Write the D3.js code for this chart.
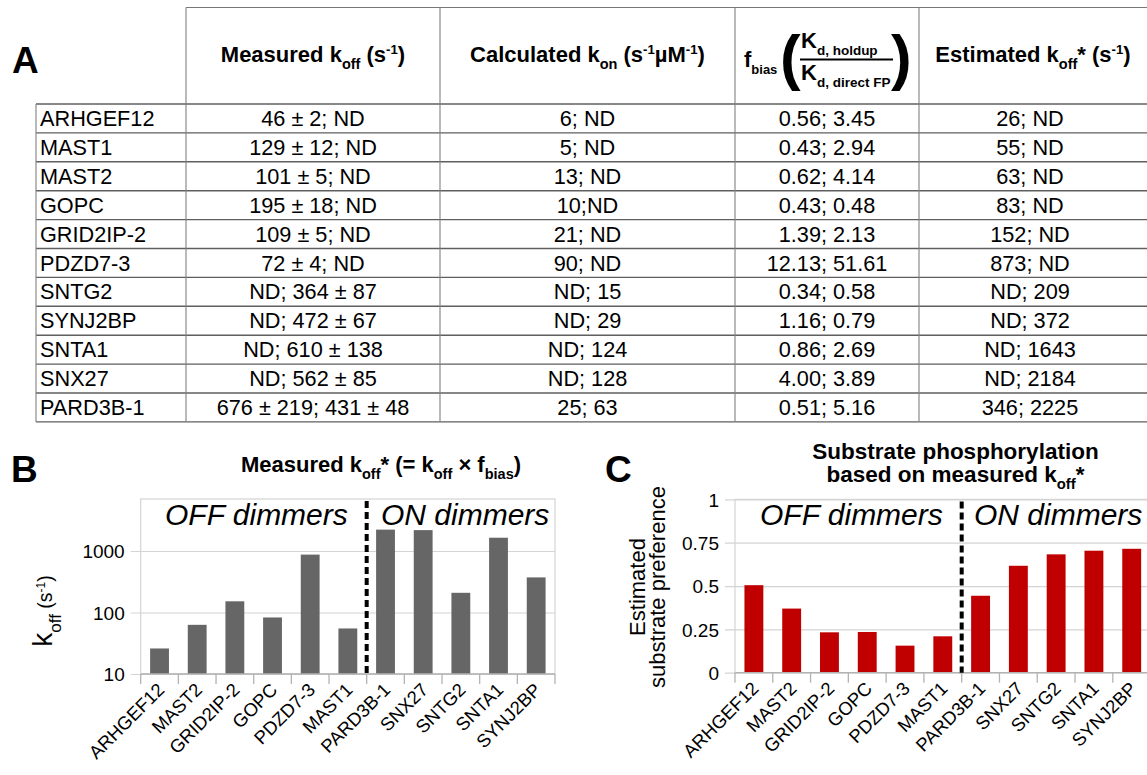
<!DOCTYPE html>
<html>
<head>
<meta charset="utf-8">
<script src="https://cdn.jsdelivr.net/npm/d3@7"></script>
<style>
  body { margin: 0; background: #fff; }
  svg { display: block; font-family: "Liberation Sans", Arial, sans-serif; white-space: pre; }
</style>
</head>
<body>
<svg id="fig" width="1147" height="775"></svg>
<script>
// ---- table A data
const proteins = ["ARHGEF12", "MAST1", "MAST2", "GOPC", "GRID2IP-2", "PDZD7-3", "SNTG2", "SYNJ2BP", "SNTA1", "SNX27", "PARD3B-1"];
const measuredKoff = ["46 ± 2; ND", "129 ± 12; ND", "101 ± 5; ND", "195 ± 18; ND", "109 ± 5; ND", "72 ± 4; ND",
                      "ND; 364 ± 87", "ND; 472 ± 67", "ND; 610 ± 138", "ND; 562 ± 85", "676 ± 219; 431 ± 48"];
const calculatedKon = ["6; ND", "5; ND", "13; ND", "10;ND", "21; ND", "90; ND", "ND; 15", "ND; 29", "ND; 124", "ND; 128", "25; 63"];
const fBias = ["0.56; 3.45", "0.43; 2.94", "0.62; 4.14", "0.43; 0.48", "1.39; 2.13", "12.13; 51.61",
               "0.34; 0.58", "1.16; 0.79", "0.86; 2.69", "4.00; 3.89", "0.51; 5.16"];
const estimatedKoff = ["26; ND", "55; ND", "63; ND", "83; ND", "152; ND", "873; ND", "ND; 209", "ND; 372", "ND; 1643", "ND; 2184", "346; 2225"];

// ---- panels B and C data
const dimmers = ["ARHGEF12", "MAST2", "GRID2IP-2", "GOPC", "PDZD7-3", "MAST1", "PARD3B-1", "SNX27", "SNTG2", "SNTA1", "SYNJ2BP"];
const koffStar = [26, 63, 152, 83, 873, 55, 2225, 2184, 209, 1643, 372];
const preference = [0.505, 0.37, 0.233, 0.235, 0.156, 0.21, 0.444, 0.617, 0.683, 0.704, 0.715];
const koffTicks = [10, 100, 1000];
const prefTicks = [0, 0.25, 0.5, 0.75, 1];
const prefLabels = ["0", "0.25", "0.5", "0.75", "1"];

const svg = d3.select("#fig");

// text with sub / superscript parts: [[string, "sub"|"sup"|undefined, size], ...]
function rich(g, x, y, fs, parts, opts = {}) {
  const t = g.append("text")
    .attr("x", x).attr("y", y)
    .attr("text-anchor", opts.anchor || "middle")
    .attr("font-size", fs)
    .attr("font-weight", opts.weight || "bold")
    .attr("fill", "#000");
  let shift = 0;
  parts.forEach(([str, kind, size]) => {
    let s = 0, sz = size || fs;
    if (kind === "sub") { s = fs * 0.3; sz = size || fs * 0.66; }
    if (kind === "sup") { s = -fs * 0.38; sz = size || fs * 0.6; }
    t.append("tspan").attr("dy", s - shift).attr("font-size", sz).text(str);
    shift = s;
  });
  return t;
}

// ================= A: table =================
const colX = [36, 186, 440, 735, 919, 1147];
const headTop = 7.5;
const yRow = d3.scaleBand().domain(proteins).range([104, 104 + proteins.length * 28.9]);
const tableBottom = yRow.range()[1];

const tbl = svg.append("g");
const rowEdges = [yRow.range()[0]].concat(proteins.map(d => yRow(d) + yRow.bandwidth()));

tbl.append("g").selectAll("line").data(rowEdges).join("line")
  .attr("x1", colX[0]).attr("x2", colX[5])
  .attr("y1", d => d).attr("y2", d => d)
  .attr("stroke", "#5f5f5f").attr("stroke-width", 1.4);
tbl.append("line")
  .attr("x1", colX[1]).attr("x2", colX[5]).attr("y1", headTop).attr("y2", headTop)
  .attr("stroke", "#777").attr("stroke-width", 1.2);
tbl.append("g").selectAll("line").data(colX.slice(0, 5)).join("line")
  .attr("x1", d => d).attr("x2", d => d)
  .attr("y1", (d, i) => i === 0 ? yRow.range()[0] : headTop)
  .attr("y2", tableBottom)
  .attr("stroke", "#808080").attr("stroke-width", 1.1);

// cell values
const columns = [
  { vals: proteins, x: 40, anchor: "start" },
  { vals: measuredKoff, x: (colX[1] + colX[2]) / 2 },
  { vals: calculatedKon, x: (colX[2] + colX[3]) / 2 },
  { vals: fBias, x: (colX[3] + colX[4]) / 2 },
  { vals: estimatedKoff, x: 1030 }
];
columns.forEach(c => {
  tbl.append("g").selectAll("text").data(c.vals).join("text")
    .attr("x", c.x)
    .attr("y", (d, i) => yRow(proteins[i]) + yRow.bandwidth() / 2 + 7.6)
    .attr("text-anchor", c.anchor || "middle")
    .attr("font-size", 21.7)
    .attr("fill", "#000")
    .text(d => d);
});

// headers
const hy = 62;
rich(tbl, (colX[1] + colX[2]) / 2, hy, 22, [["Measured k"], ["off", "sub"], [" (s"], ["-1", "sup"], [")"]]);
rich(tbl, (colX[2] + colX[3]) / 2, hy, 22, [["Calculated k"], ["on", "sub"], [" (s"], ["-1", "sup"], ["µM"], ["-1", "sup"], [")"]]);
rich(tbl, 1033, hy, 22, [["Estimated k"], ["off", "sub"], ["* (s"], ["-1", "sup"], [")"]]);

// f_bias header with fraction
rich(tbl, 744, 67, 22, [["f"], ["bias", "sub", 13]], { anchor: "start" });
tbl.append("text").attr("x", 780).attr("y", 78).attr("font-size", 62).attr("font-weight", "bold").text("(");
tbl.append("text").attr("x", 891).attr("y", 78).attr("font-size", 62).attr("font-weight", "bold").text(")");
rich(tbl, 801, 48, 22, [["K"], ["d,  holdup", "sub", 13.5]], { anchor: "start" });
rich(tbl, 801, 80, 22, [["K"], ["d, direct FP", "sub", 13.5]], { anchor: "start" });
tbl.append("line").attr("x1", 800).attr("x2", 893).attr("y1", 59.5).attr("y2", 59.5)
  .attr("stroke", "#000").attr("stroke-width", 2);

// panel letters
svg.append("text").attr("x", 12).attr("y", 73).attr("font-size", 37).attr("font-weight", "bold").text("A");
svg.append("text").attr("x", 11).attr("y", 482).attr("font-size", 37).attr("font-weight", "bold").text("B");
svg.append("text").attr("x", 605).attr("y", 482).attr("font-size", 37).attr("font-weight", "bold").text("C");

// ================= shared bar chart =================
function barPanel({ x0, x1, yScale, ticks, tickLabels, values, color, offX, onX }) {
  const g = svg.append("g");
  const x = d3.scaleBand().domain(dimmers).range([x0, x1]);
  const [yBot, yTop] = yScale.range();

  // gridlines and y tick labels
  g.append("g")
    .attr("transform", `translate(${x0},0)`)
    .call(d3.axisLeft(yScale).tickValues(ticks).tickFormat((d, i) => tickLabels[i]).tickSize(-(x1 - x0)))
    .call(a => a.select(".domain").remove())
    .call(a => a.selectAll(".tick line").attr("x1", -10).attr("stroke", "#d4d4d4").attr("stroke-width", 1.2))
    .call(a => a.selectAll(".tick text").attr("x", -16).attr("dy", "0.35em")
      .attr("font-size", 19).attr("fill", "#000").attr("font-family", "Liberation Sans, Arial, sans-serif"));

  // plot frame
  g.append("rect")
    .attr("x", x0).attr("y", yTop).attr("width", x1 - x0).attr("height", yBot - yTop)
    .attr("fill", "none").attr("stroke", "#d4d4d4").attr("stroke-width", 1.2);

  // bars
  g.append("g").selectAll("rect").data(values).join("rect")
    .attr("x", (d, i) => x(dimmers[i]) + x.bandwidth() * 0.25)
    .attr("width", x.bandwidth() * 0.5)
    .attr("y", d => yScale(d))
    .attr("height", d => yBot - yScale(d))
    .attr("fill", color);

  // x axis line and boundary ticks
  const edges = dimmers.map(d => x(d)).concat([x1]);
  g.append("line").attr("x1", x0).attr("x2", x1).attr("y1", yBot).attr("y2", yBot)
    .attr("stroke", "#b3b3b3").attr("stroke-width", 1.3);
  g.append("g").selectAll("line").data(edges).join("line")
    .attr("x1", d => d).attr("x2", d => d).attr("y1", yBot).attr("y2", yBot + 10)
    .attr("stroke", "#b3b3b3").attr("stroke-width", 1.3);

  // rotated category labels
  g.append("g").selectAll("text").data(dimmers).join("text")
    .attr("transform", d => `translate(${x(d) + x.bandwidth() / 2 + 6},${yBot + 17}) rotate(-45)`)
    .attr("text-anchor", "end")
    .attr("font-size", 18.5)
    .attr("fill", "#000")
    .text(d => d);

  // OFF / ON divider
  const xd = x("PARD3B-1");
  g.append("line").attr("x1", xd).attr("x2", xd).attr("y1", yTop + 2).attr("y2", yBot)
    .attr("stroke", "#000").attr("stroke-width", 4).attr("stroke-dasharray", "7,4");

  g.append("text").attr("x", offX).attr("y", 525).attr("font-size", 30).attr("font-style", "italic")
    .attr("fill", "#000").text("OFF dimmers");
  g.append("text").attr("x", onX).attr("y", 525).attr("font-size", 30).attr("font-style", "italic")
    .attr("fill", "#000").text("ON dimmers");
  return g;
}

// ================= B =================
const yB = d3.scaleLog().domain([10, 7000]).range([674, 499]);
barPanel({ x0: 140.7, x1: 555, yScale: yB, ticks: koffTicks, tickLabels: koffTicks.map(String),
           values: koffStar, color: "#666666", offX: 165, onX: 381 });

rich(svg, 381, 472, 22, [["Measured k"], ["off", "sub"], ["*  (= k"], ["off", "sub"], [" × f"], ["bias", "sub"], [")"]]);

// y label B: rotated
(function () {
  const t = svg.append("text")
    .attr("transform", "translate(52,611) rotate(-90)")
    .attr("text-anchor", "middle").attr("fill", "#000");
  t.append("tspan").attr("font-size", 28).text("k");
  t.append("tspan").attr("font-size", 17).attr("dy", 9).text("off");
  t.append("tspan").attr("font-size", 19.5).attr("dy", -9).text(" (s");
  t.append("tspan").attr("font-size", 12).attr("dy", -7).text("-1");
  t.append("tspan").attr("font-size", 19.5).attr("dy", 7).text(")");
})();

// ================= C =================
const yC = d3.scaleLinear().domain([0, 1]).range([672.7, 499.4]);
barPanel({ x0: 735, x1: 1150.6, yScale: yC, ticks: prefTicks, tickLabels: prefLabels,
           values: preference, color: "#c00000", offX: 760, onX: 974 });

rich(svg, 955.5, 459, 22.5, [["Substrate phosphorylation"]]);
rich(svg, 955.5, 482, 22.5, [["based on measured k"], ["off", "sub"], ["*"]]);

svg.append("text").attr("transform", "translate(645,587) rotate(-90)")
  .attr("text-anchor", "middle").attr("font-size", 22).attr("fill", "#000").text("Estimated");
svg.append("text").attr("transform", "translate(665,587) rotate(-90)")
  .attr("text-anchor", "middle").attr("font-size", 22).attr("fill", "#000").text("substrate preference");
</script>
</body>
</html>
